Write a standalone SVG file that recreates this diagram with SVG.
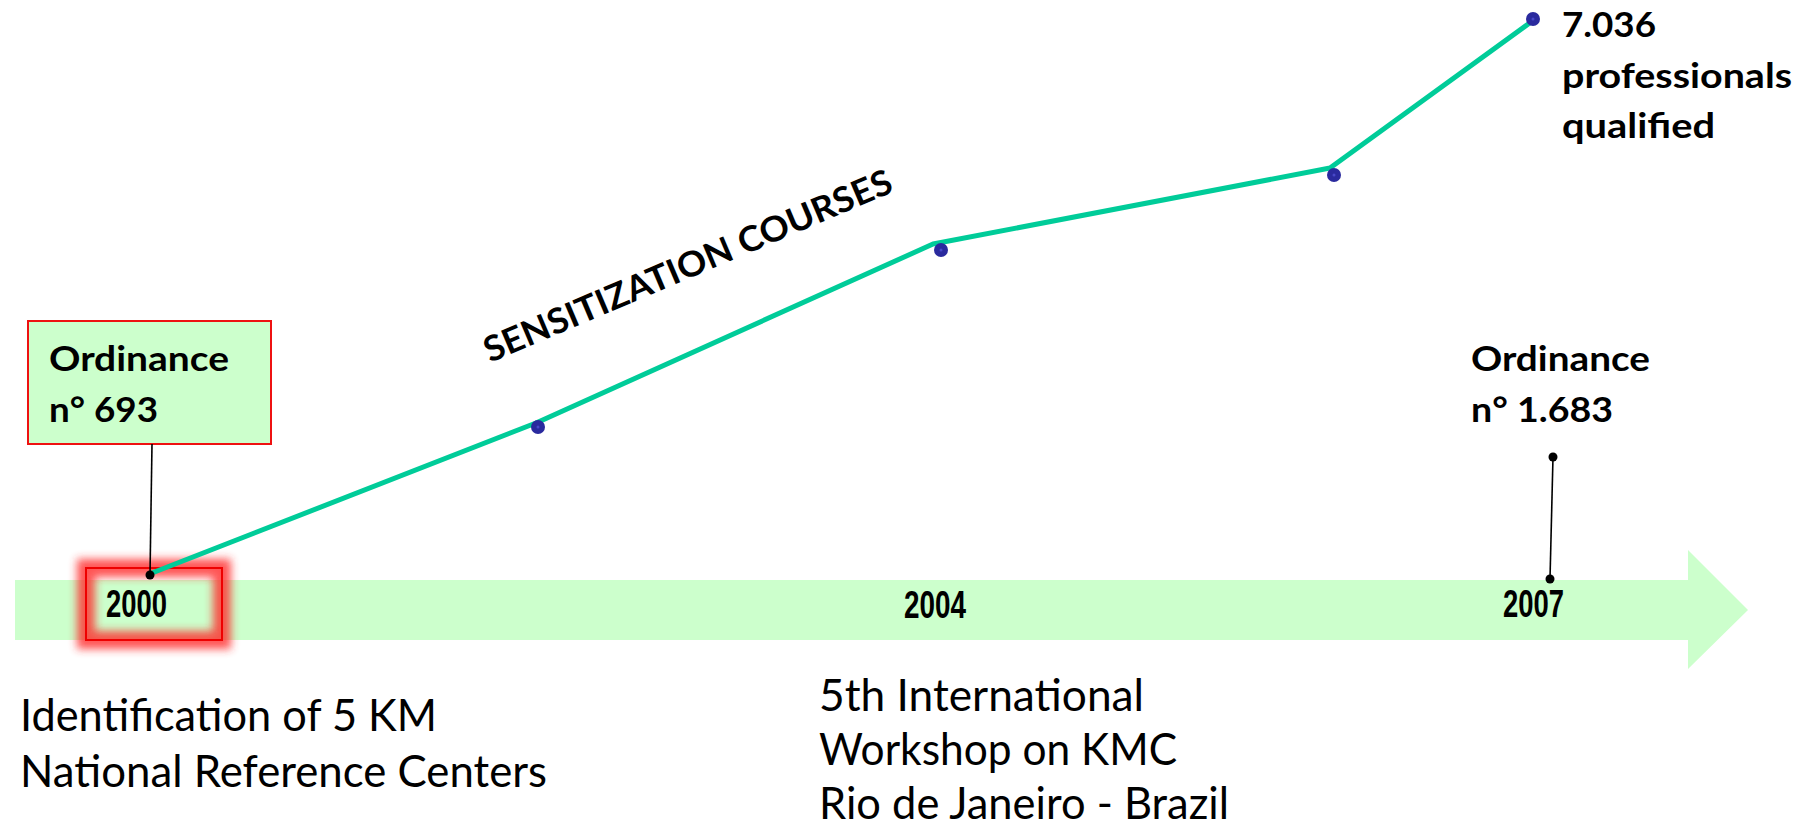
<svg xmlns="http://www.w3.org/2000/svg" width="1812" height="827" viewBox="0 0 1812 827">
  <style>
    .bold { font-family: Lato, "Open Sans", "Liberation Sans", sans-serif; font-weight: bold; fill: #000; }
    .reg { font-family: Lato, "Open Sans", "Liberation Sans", sans-serif; font-weight: normal; fill: #000; font-size: 44px; }
    .year { font-family: "Liberation Sans", "DejaVu Sans", sans-serif; font-weight: bold; fill: #000; font-size: 38px; }
    .conn { stroke: #000; stroke-width: 1.6; fill: none; }
    .cdot { fill: #000; }
    .bdot { fill: #2a2a9e; }
    .bdotc { fill: #4848c8; }
  </style>
  <defs>
    <filter id="glow" x="-30%" y="-50%" width="160%" height="200%">
      <feGaussianBlur stdDeviation="4"/>
    </filter>
  </defs>
  <rect width="1812" height="827" fill="#ffffff"/>

  <g id="timeline-band">
    <polygon points="15,580 1688,580 1688,550 1748,610 1688,669 1688,640 15,640" fill="#ccffcc"/>
  </g>

  <g id="year-2000">
    <rect x="86" y="568" width="136" height="72" fill="none" stroke="#ff2a2a" stroke-width="18" opacity="0.8" filter="url(#glow)"/>
    <rect x="86" y="568" width="136" height="72" fill="none" stroke="#ee0000" stroke-width="2"/>
    <text class="year" x="106" y="617" textLength="61" lengthAdjust="spacingAndGlyphs">2000</text>
  </g>

  <g id="year-2004">
    <text class="year" x="904" y="618" textLength="62" lengthAdjust="spacingAndGlyphs">2004</text>
  </g>

  <g id="year-2007">
    <text class="year" x="1503" y="617" textLength="61" lengthAdjust="spacingAndGlyphs">2007</text>
  </g>

  <g id="ordinance-693">
    <rect x="28" y="321" width="243" height="123" fill="#ccffcc" stroke="#ee1111" stroke-width="2"/>
    <text class="bold" x="49" y="371" font-size="34" textLength="180" lengthAdjust="spacingAndGlyphs">Ordinance</text>
    <text class="bold" x="49" y="422" font-size="34" textLength="109" lengthAdjust="spacingAndGlyphs">n° 693</text>
  </g>

  <g id="ordinance-1683">
    <text class="bold" x="1471" y="371" font-size="34" textLength="179" lengthAdjust="spacingAndGlyphs">Ordinance</text>
    <text class="bold" x="1471" y="422" font-size="34" textLength="142" lengthAdjust="spacingAndGlyphs">n° 1.683</text>
  </g>

  <g id="professionals">
    <text class="bold" x="1562" y="37" font-size="34" textLength="94" lengthAdjust="spacingAndGlyphs">7.036</text>
    <text class="bold" x="1562" y="88" font-size="34" textLength="230" lengthAdjust="spacingAndGlyphs">professionals</text>
    <text class="bold" x="1562" y="138" font-size="34" textLength="153" lengthAdjust="spacingAndGlyphs">qualified</text>
  </g>

  <g id="sensitization-label">
    <text class="bold" x="490" y="363" font-size="35" textLength="440" lengthAdjust="spacingAndGlyphs" transform="rotate(-23 490 363)">SENSITIZATION COURSES</text>
  </g>

  <g id="reference-centers">
    <text class="reg" x="20" y="731" textLength="417" lengthAdjust="spacingAndGlyphs">Identification of 5 KM</text>
    <text class="reg" x="20" y="787" textLength="527" lengthAdjust="spacingAndGlyphs">National Reference Centers</text>
  </g>

  <g id="workshop">
    <text class="reg" x="819" y="711" textLength="325" lengthAdjust="spacingAndGlyphs">5th International</text>
    <text class="reg" x="819" y="765" textLength="358" lengthAdjust="spacingAndGlyphs">Workshop on KMC</text>
    <text class="reg" x="819" y="819" textLength="410" lengthAdjust="spacingAndGlyphs">Rio de Janeiro - Brazil</text>
  </g>

  <g id="connectors">
    <polyline points="152,573 536,423 933,244 1330,168 1531,22" fill="none" stroke="#00cc99" stroke-width="5" stroke-linejoin="round"/>
    <line class="conn" x1="152" y1="444" x2="150" y2="575"/>
    <circle class="cdot" cx="150" cy="575" r="4.5"/>
    <line class="conn" x1="1553" y1="457" x2="1550" y2="579"/>
    <circle class="cdot" cx="1553" cy="457" r="4.5"/>
    <circle class="cdot" cx="1550" cy="579" r="4.5"/>
    <g id="data-points">
      <circle class="bdot" cx="538" cy="427" r="7"/>
      <circle class="bdotc" cx="538" cy="427" r="1.5"/>
      <circle class="bdot" cx="941" cy="250" r="7"/>
      <circle class="bdotc" cx="941" cy="250" r="1.5"/>
      <circle class="bdot" cx="1334" cy="175" r="7"/>
      <circle class="bdotc" cx="1334" cy="175" r="1.5"/>
      <circle class="bdot" cx="1533" cy="19" r="7"/>
      <circle class="bdotc" cx="1533" cy="19" r="1.5"/>
    </g>
  </g>
</svg>
